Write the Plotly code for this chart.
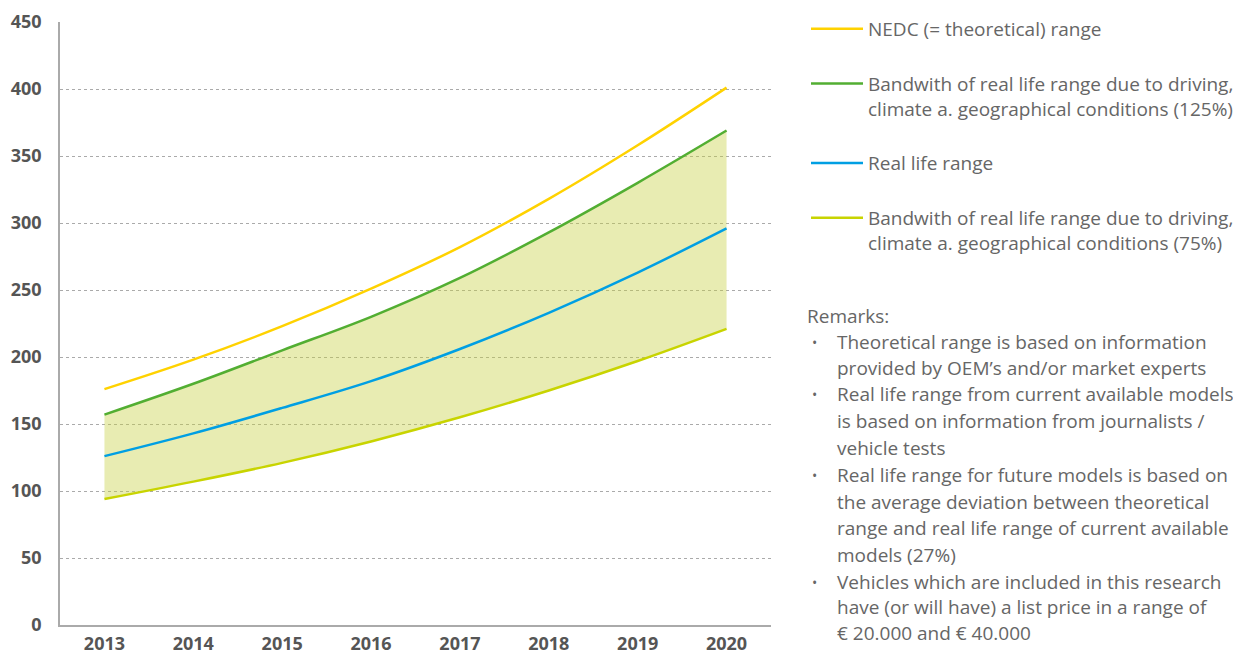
import plotly.graph_objects as go

years = ["2013", "2014", "2015", "2016", "2017", "2018", "2019", "2020"]
nedc = [176, 198, 223, 251, 282, 318, 358, 401]
band_high = [157, 180, 205, 230, 259, 293, 330, 369]
real_life = [126, 143, 162, 182, 206, 233, 263, 296]
band_low = [94, 107, 121, 137, 155, 175, 197, 221]

names = [
    "NEDC (= theoretical) range",
    "Bandwith of real life range due to driving,<br>climate a. geographical conditions (125%)",
    "Real life range",
    "Bandwith of real life range due to driving,<br>climate a. geographical conditions (75%)",
]
y_ticks = [0, 50, 100, 150, 200, 250, 300, 350, 400, 450]

remarks = [
    ["Theoretical range is based on information", "provided by OEM’s and/or market experts"],
    ["Real life range from current available models", "is based on information from journalists /", "vehicle tests"],
    ["Real life range for future models is based on", "the average deviation between theoretical",
     "range and real life range of current available", "models (27%)"],
    ["Vehicles which are included in this research", "have (or will have) a list price in a range of",
     "€ 20.000 and € 40.000"],
]

# page has an 8px body margin; work in page pixels and convert
OFF = 8
W, H = 1241 - OFF, 657 - OFF
L, R, T, B = 60 - OFF, 771 - OFF, 22 - OFF, 625 - OFF

def px(x):
    return (x - OFF - L) / (R - L)

def py(y):
    return (B - (y - OFF)) / (B - T)

FONT = "Open Sans"
GRAY = "#666666"
FS = 19

fig = go.Figure()
# shaded band (no legend)
fig.add_trace(go.Scatter(x=years, y=band_low, mode="lines", showlegend=False, hoverinfo="skip",
                         line=dict(color="rgba(0,0,0,0)", width=0, shape="spline")))
fig.add_trace(go.Scatter(x=years, y=band_high, mode="lines", showlegend=False, hoverinfo="skip",
                         fill="tonexty", fillcolor="rgba(197,207,62,0.4)",
                         line=dict(color="rgba(0,0,0,0)", width=0, shape="spline")))
# lines
fig.add_trace(go.Scatter(x=years, y=band_low, mode="lines", name=names[3], legendrank=4,
                         legendgroup="d",
                         line=dict(color="#C8D400", width=2.5, shape="spline")))
fig.add_trace(go.Scatter(x=years, y=band_high, mode="lines", name=names[1], legendrank=2,
                         legendgroup="b",
                         line=dict(color="#52AE32", width=2.5, shape="spline")))
fig.add_trace(go.Scatter(x=years, y=real_life, mode="lines", name=names[2], legendrank=3,
                         legendgroup="c",
                         line=dict(color="#009FE3", width=2.5, shape="spline")))
fig.add_trace(go.Scatter(x=years, y=nedc, mode="lines", name=names[0], legendrank=1,
                         legendgroup="a",
                         line=dict(color="#FFD200", width=2.5, shape="spline")))

annotations = [dict(xref="paper", yref="paper", x=px(805), y=py(316), text="Remarks:",
                    showarrow=False, xanchor="left", yanchor="middle",
                    font=dict(family=FONT, size=FS, color=GRAY))]
line_y = [[342, 368], [394, 421, 448], [475, 502, 528, 555], [582, 607, 633]]
for lines, ys in zip(remarks, line_y):
    annotations.append(dict(xref="paper", yref="paper", x=px(810), y=py(ys[0]), text="•",
                            showarrow=False, xanchor="left", yanchor="middle",
                            font=dict(family=FONT, size=14, color=GRAY)))
    for t, yy in zip(lines, ys):
        annotations.append(dict(xref="paper", yref="paper", x=px(835), y=py(yy), text=t,
                                showarrow=False, xanchor="left", yanchor="middle",
                                font=dict(family=FONT, size=FS, color=GRAY)))

fig.update_layout(
    width=W, height=H,
    margin=dict(l=L, r=W - R, t=T, b=H - B, autoexpand=False),
    plot_bgcolor="white", paper_bgcolor="white",
    font=dict(family=FONT, color=GRAY),
    showlegend=True,
    legend=dict(x=px(806), y=py(10), xanchor="left", yanchor="top",
                font=dict(family=FONT, size=FS, color=GRAY),
                itemwidth=52, valign="top", traceorder="grouped", tracegroupgap=27,
                bgcolor="rgba(0,0,0,0)"),
    annotations=annotations,
)
fig.update_xaxes(range=[-0.5, 7.5], showgrid=False, showline=True, linecolor="#aaaaaa",
                 linewidth=1.5, ticks="", tickfont=dict(family=FONT, size=18, color="#555555", weight="bold"),
                 ticklabelstandoff=2)
fig.update_yaxes(range=[0, 450], tickvals=y_ticks, showgrid=True, gridcolor="#aaaaaa",
                 griddash="dot", gridwidth=1, zeroline=False, showline=True, linecolor="#aaaaaa",
                 linewidth=1.5, ticks="", tickfont=dict(family=FONT, size=18, color="#555555", weight="bold"),
                 ticklabelstandoff=13)

fig.write_html("out.html")
